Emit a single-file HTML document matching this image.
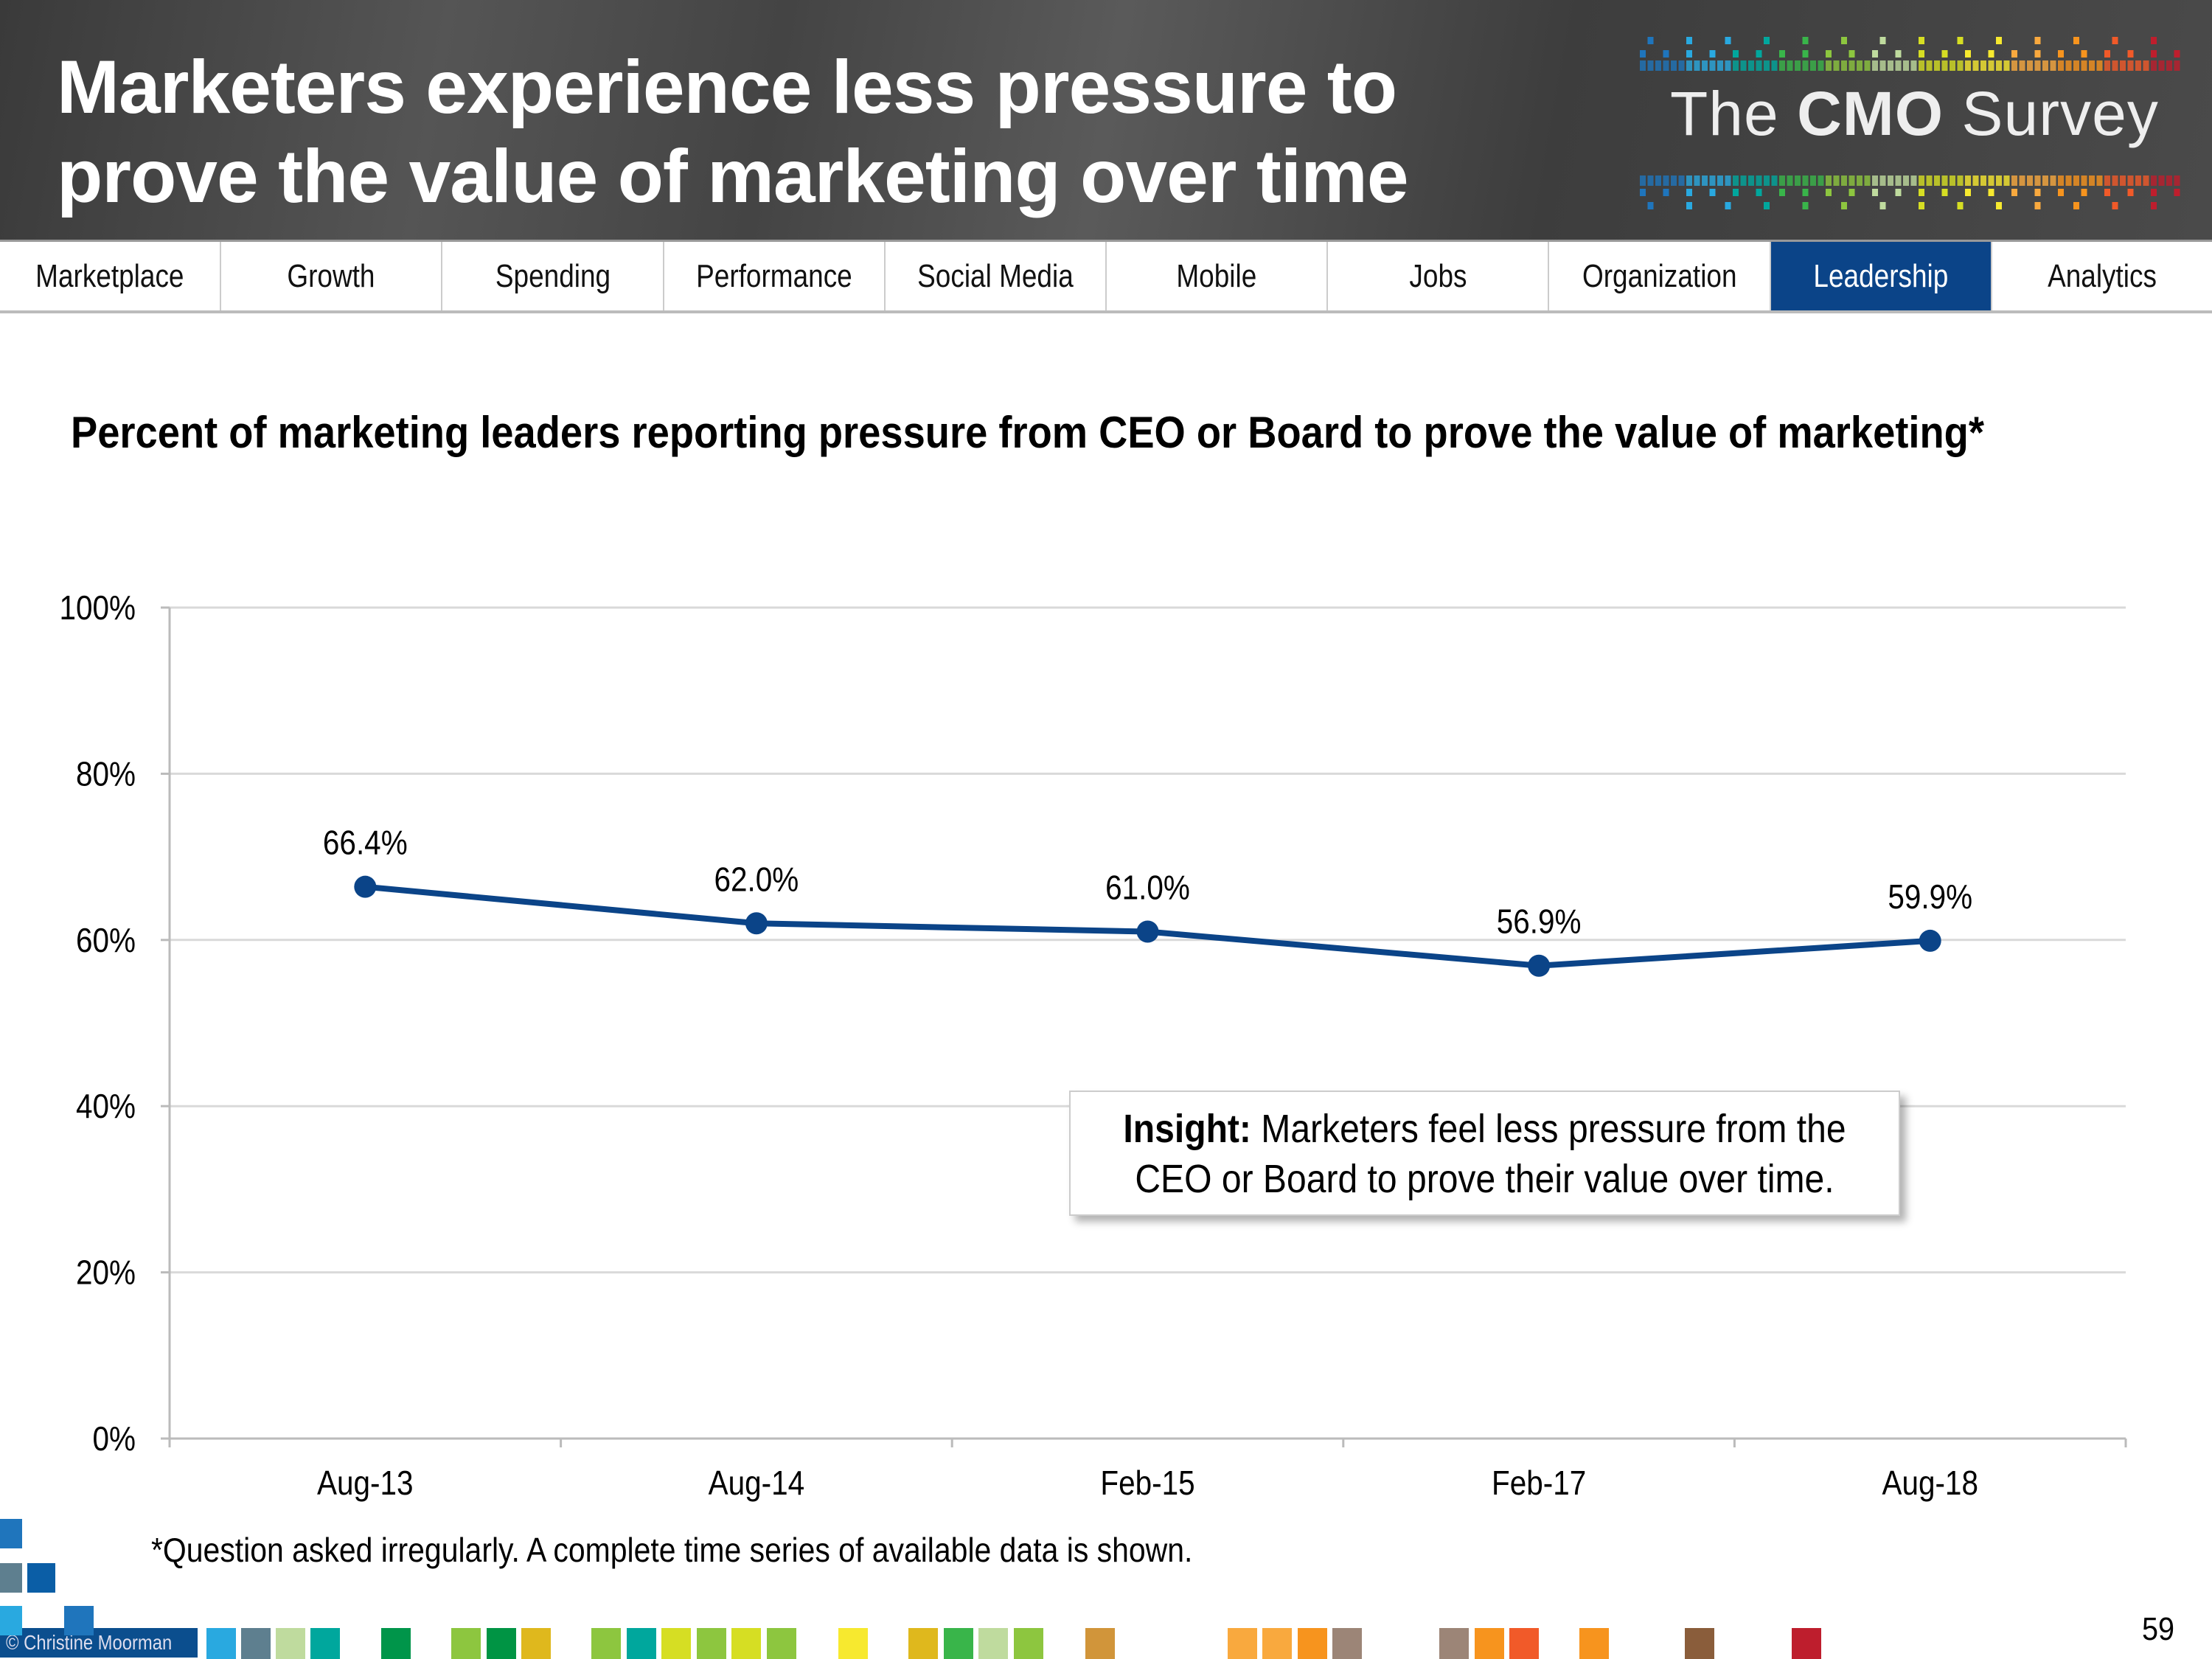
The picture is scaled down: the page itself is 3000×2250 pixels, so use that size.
<!DOCTYPE html>
<html><head><meta charset="utf-8"><style>
*{margin:0;padding:0;box-sizing:border-box}
body{width:3000px;height:2250px;background:#fff;position:relative;overflow:hidden;font-family:"Liberation Sans",sans-serif}
#header{position:absolute;left:0;top:0;width:3000px;height:325px;background:linear-gradient(100deg,#3a3a3a 0%,#555 20%,#444 35%,#5a5a5a 50%,#3d3d3d 70%,#4a4a4a 100%)}
#title{position:absolute;left:77px;top:58px;color:#fff;font-weight:bold;font-size:102px;line-height:121px;letter-spacing:-1px;white-space:nowrap}
#logo{position:absolute;left:2265px;top:106px;color:#eee;font-size:84px;letter-spacing:1px;white-space:nowrap}
#nav{position:absolute;left:0;top:325px;width:3000px;height:100px;border-top:3px solid #999;border-bottom:4px solid #bbb;display:flex}
.tab{flex:1;border-right:2px solid #ccc;font-size:44px;display:flex;align-items:center;justify-content:center;color:#111;white-space:nowrap}
.tab span{display:inline-block;transform:scaleX(0.84)}
.tab.active{background:#0b4488;color:#fff}
.nar{position:absolute;white-space:nowrap;transform-origin:0 0}
#ctitle{left:96px;top:552px;font-weight:bold;font-size:60px;color:#000;transform:scaleX(0.905)}
#foot{left:205px;top:2075px;font-size:46px;transform:scaleX(0.89)}
#pg{left:2905px;top:2185px;font-size:44px;transform:scaleX(0.9)}
#copy{position:absolute;left:0;top:2208px;width:268px;height:40px;background:#0b4e8e;color:#dde;font-size:28px;line-height:40px;padding-left:8px;white-space:nowrap;overflow:hidden}
#copy span{display:inline-block;transform:scaleX(0.85);transform-origin:0 0}
#insight{position:absolute;left:1450px;top:1479px;width:1127px;height:170px;background:#fff;border:2px solid #ccc;box-shadow:8px 8px 10px rgba(0,0,0,0.3);font-size:54px;text-align:center;line-height:68px;padding-top:16px;white-space:nowrap}
#insight div{transform:scaleX(0.89)}
</style></head><body>
<div id="header">
<div id="title">Marketers experience less pressure to<br>prove the value of marketing over time</div>
<svg id="dots" style="position:absolute;left:2220px;top:20px" width="780" height="300"></svg>
<div id="logo">The <b>CMO</b> Survey</div>
</div>
<div id="nav">
<div class="tab"><span>Marketplace</span></div>
<div class="tab"><span>Growth</span></div>
<div class="tab"><span>Spending</span></div>
<div class="tab"><span>Performance</span></div>
<div class="tab"><span>Social Media</span></div>
<div class="tab"><span>Mobile</span></div>
<div class="tab"><span>Jobs</span></div>
<div class="tab"><span>Organization</span></div>
<div class="tab active"><span>Leadership</span></div>
<div class="tab" style="border-right:none"><span>Analytics</span></div>
</div>
<div id="ctitle" class="nar">Percent of marketing leaders reporting pressure from CEO or Board to prove the value of marketing*</div>
<svg id="chart" style="position:absolute;left:0;top:0" width="3000" height="2250"></svg>
<div id="insight"><div><b>Insight:</b> Marketers feel less pressure from the<br>CEO or Board to prove their value over time.</div></div>
<div id="foot" class="nar">*Question asked irregularly. A complete time series of available data is shown.</div>
<div id="pg" class="nar">59</div>
<div id="copy"><span>© Christine Moorman</span></div>
<svg id="strip" style="position:absolute;left:0;top:2050px" width="3000" height="200"></svg>
<script>
const categories=["Aug-13","Aug-14","Feb-15","Feb-17","Aug-18"];
const values=[66.4,62.0,61.0,56.9,59.9];
const valueLabels=["66.4%","62.0%","61.0%","56.9%","59.9%"];
const yTicks=[0,20,40,60,80,100];
const NS="http://www.w3.org/2000/svg";
const X0=230,X1=2883,Y0=1951,Y1=824;
const bw=(X1-X0)/categories.length;
const xs=i=>X0+bw*(i+0.5);
const ys=v=>Y0-(v/100)*(Y0-Y1);
const svg=document.getElementById('chart');
function mk(t,a,p){const e=document.createElementNS(NS,t);for(const k in a)e.setAttribute(k,a[k]);(p||svg).appendChild(e);return e;}
function txt(x,y,anchor,s){return mk('text',{transform:'translate('+x+','+y+') scale(0.88,1)','text-anchor':anchor,'font-size':46});}
yTicks.forEach(t=>{
 const g=mk('line',{x1:X0,x2:X1,y1:ys(t),y2:ys(t),stroke:t===0?'#bbb':'#d9d9d9','stroke-width':3});
 
 
 mk('line',{x1:X0-12,x2:X0,y1:ys(t),y2:ys(t),stroke:'#bbb','stroke-width':3});
 const l=txt(184,ys(t)+16,'end');
 l.textContent=t+'%';
 
 
});
mk('line',{x1:X0,x2:X0,y1:Y1,y2:Y0,stroke:'#bbb','stroke-width':3});
for(let i=0;i<=categories.length;i++){mk('line',{x1:X0+bw*i,x2:X0+bw*i,y1:Y0,y2:Y0+12,stroke:'#bbb','stroke-width':3});}
categories.forEach((c,i)=>{
 const l=txt(xs(i),2027,'middle');
 l.textContent=c;
 
 
});
const line=mk('polyline',{points:values.map((v,i)=>xs(i)+','+ys(v)).join(' '),fill:'none',stroke:'#0b4488','stroke-width':8});


values.forEach((v,i)=>{
 const c=mk('circle',{cx:xs(i),cy:ys(v),r:15,fill:'#0b4488'});
 
 
 const t=txt(xs(i),ys(v)-44,'middle');
 t.textContent=valueLabels[i];
 
 
});
const strip=document.getElementById('strip');
const sc=[[280,"#29a9e0"],[327,"#5e7f8f"],[374,"#bfdb9e"],[421,"#00a79d"],[517,"#00954a"],[612,"#8dc63f"],[660,"#009444"],[707,"#dfb81d"],[802,"#8dc63f"],[850,"#00a79d"],[897,"#d6de23"],[945,"#8dc63f"],[992,"#d6de23"],[1040,"#8dc63f"],[1137,"#f7e92f"],[1232,"#dfb81d"],[1280,"#39b54a"],[1327,"#bfdb9e"],[1375,"#8dc63f"],[1472,"#d1953a"],[1665,"#f9a93e"],[1712,"#f9a93e"],[1760,"#f7941e"],[1807,"#9c8577"],[1952,"#9c8577"],[2000,"#f7941e"],[2047,"#f15a29"],[2142,"#f7941e"],[2285,"#8a5d3b"],[2430,"#be1e2d"]];
sc.forEach(([x,c])=>{mk('rect',{x:x,y:158,width:40,height:42,fill:c},strip);});
[[0,10,30,"#1f75bc"],[0,70,30,"#5e7f8f"],[37,70,38,"#0b5ea6"],[0,128,30,"#29a9e0"],[87,128,40,"#1f75bc"]].forEach(([x,y,w,c])=>mk('rect',{x:x,y:y,width:w,height:40,fill:c},strip));
const dots=document.getElementById('dots');
const pal=["#1f75bc","#29a9e0","#00a79d","#39b54a","#8dc63f","#bfdb9e","#d6de23","#f7e92f","#f9a93e","#f7941e","#f15a29","#be1e2d","#5e7f8f"];
for(let k=0;k<70;k++){const x=4+k*10.5;const c=pal[Math.min(12,Math.floor(k/6))];
 mk('rect',{x:x,y:62,width:8,height:14,fill:c,opacity:0.8},dots);
 mk('rect',{x:x,y:218,width:8,height:14,fill:c,opacity:0.8},dots);
 if(k%3===0){mk('rect',{x:x,y:48,width:8,height:10,fill:c},dots);mk('rect',{x:x,y:236,width:8,height:10,fill:c},dots);}
 if(k%5===1){mk('rect',{x:x,y:30,width:8,height:10,fill:c},dots);mk('rect',{x:x,y:254,width:8,height:10,fill:c},dots);}
}
</script>
</body></html>
